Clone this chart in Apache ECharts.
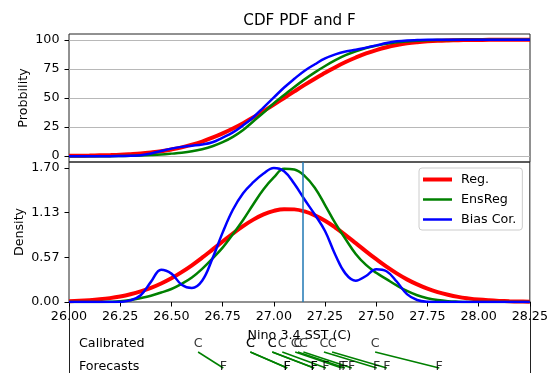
<!DOCTYPE html>
<html><head><meta charset="utf-8">
<script src="https://cdn.jsdelivr.net/npm/echarts@6/dist/echarts.min.js"></script>
<style>html,body{margin:0;padding:0;background:#fff}#c{width:551px;height:373px}</style>
</head><body><div id="c"></div>
<script>
// ---- data ----
const xGrid = [26.00,26.05,26.10,26.15,26.20,26.25,26.30,26.35,26.40,26.45,26.50,26.55,26.60,26.65,26.70,26.75,26.80,26.85,26.90,26.95,
               27.00,27.05,27.10,27.15,27.20,27.25,27.30,27.35,27.40,27.45,27.50,27.55,27.60,27.65,27.70,27.75,27.80,27.85,27.90,27.95,
               28.00,28.05,28.10,28.15,28.20,28.25];
const regPdf = [0.010,0.015,0.023,0.034,0.049,0.070,0.098,0.134,0.179,0.235,0.301,0.379,0.466,0.562,0.664,0.767,0.869,0.963,1.045,1.111,
                1.156,1.178,1.175,1.149,1.099,1.030,0.945,0.849,0.747,0.643,0.543,0.448,0.363,0.287,0.223,0.169,0.126,0.092,0.065,0.046,
                0.031,0.021,0.014,0.009,0.006,0.003];
const ensPdf = [0,0,0,0,0.002,0.008,0.025,0.05,0.08,0.12,0.165,0.23,0.31,0.42,0.55,0.69,0.86,1.04,1.24,1.43,
                1.58,1.69,1.68,1.60,1.45,1.23,1.00,0.80,0.61,0.47,0.37,0.29,0.21,0.14,0.085,0.048,0.024,0.01,0.004,0.001,
                0,0,0,0,0,0];
const biasPdf = [0,0,0,0,0,0.003,0.02,0.085,0.255,0.41,0.36,0.22,0.178,0.27,0.55,0.88,1.17,1.38,1.52,1.63,
                 1.70,1.66,1.50,1.30,1.11,0.90,0.60,0.36,0.27,0.33,0.415,0.39,0.26,0.10,0.025,0.003,0,0,0,0,
                 0,0,0,0,0,0];
const regCdf = [0.3,0.4,0.5,0.7,0.9,1.2,1.7,2.3,3.2,4.3,5.8,7.6,9.9,12.6,15.9,19.6,23.8,28.4,33.4,38.8,
                44.3,50.0,55.7,61.3,66.6,71.6,76.5,80.9,84.8,88.3,91.2,93.6,95.5,97.0,98.0,98.7,99.2,99.5,99.7,99.8,
                99.9,100,100,100,100,100];
const ensCdf = [0,0,0,0,0,0.1,0.3,0.6,1.0,1.5,2.2,3.0,4.2,6.0,8.5,12.0,16.6,22.5,30.0,37.5,
                45.5,52.5,59.5,66.0,72.0,77.5,82.5,86.8,90.2,93.0,95.0,96.6,97.8,98.6,99.2,99.6,99.8,99.9,100,100,
                100,100,100,100,100,100];
const biasCdf = [0,0,0,0,0,0.1,0.3,0.8,2.3,4.5,6.5,8.0,9.0,10.0,12.0,16.0,20.5,26.5,33.5,42.0,
                 50.5,59.0,66.5,73.5,79.0,84.0,87.5,90.0,91.5,93.3,95.2,97.2,98.7,99.5,99.8,100,100,100,100,100,
                 100,100,100,100,100,100];
const observed = 27.14;
const calibrated = [26.630,26.885,26.885,26.992,26.992,27.041,27.104,27.117,27.144,27.244,27.284,27.494];
const forecasts  = [26.753,27.065,27.065,27.196,27.196,27.254,27.331,27.347,27.380,27.502,27.551,27.807];
const xTicks = [26.00,26.25,26.50,26.75,27.00,27.25,27.50,27.75,28.00,28.25];
const probTicks = [0,25,50,75,100];
const densTicks = [0,0.5667,1.1333,1.70];
const seriesNames = ['Reg.','EnsReg','Bias Cor.'];

// ---- layout / style ----
const FONT = 'DejaVu Sans';
const FS = 12.7;
const colors = ['#ff0000','#008000','#0000ff'];
const widths = [4,2.5,2.5];
const ROW_C = 42, ROW_F = 65, LINE_A = 50, LINE_B = 66;

const pairs = (ys) => xGrid.map((x,i)=>[x, ys[i]]);
const cdfs = [regCdf, ensCdf, biasCdf];
const pdfs = [regPdf, ensPdf, biasPdf];

const chart = echarts.init(document.getElementById('c'), null, {renderer:'canvas'});
const axisTxt = {fontFamily: FONT, fontSize: FS, color: '#000'};
const series = [];
for (let k=0;k<3;k++) series.push({
  name: seriesNames[k], type:'line', xAxisIndex:0, yAxisIndex:0, data: pairs(cdfs[k]),
  symbol:'none', smooth:0.4, lineStyle:{color:colors[k], width:widths[k]}, itemStyle:{color:colors[k]},
  emphasis:{disabled:true}, silent:true
});
for (let k=0;k<3;k++) series.push({
  name: seriesNames[k], type:'line', xAxisIndex:1, yAxisIndex:1, data: pairs(pdfs[k]),
  symbol:'none', smooth:0.4, lineStyle:{color:colors[k], width:widths[k]}, itemStyle:{color:colors[k]},
  emphasis:{disabled:true}, silent:true
});
series.push({
  name:'obs', type:'line', xAxisIndex:1, yAxisIndex:1, data:[], silent:true,
  markLine:{symbol:['none','none'], silent:true, label:{show:false}, animation:false,
    lineStyle:{color:'#1f77b4', width:1.5, type:'solid'}, emphasis:{disabled:true},
    data:[{xAxis: observed}]}
});
series.push({
  type:'custom', xAxisIndex:2, yAxisIndex:2, silent:true,
  data: calibrated.map((c,i)=>[c, forecasts[i]]),
  renderItem: (params, api) => {
    const p1 = api.coord([api.value(0), LINE_A]);
    const p2 = api.coord([api.value(1), LINE_B]);
    return {type:'line', shape:{x1:p1[0], y1:p1[1], x2:p2[0], y2:p2[1]},
            style:{stroke:'#008000', lineWidth:1.5}};
  }
});
const labelSeries = (vals, row, txt) => ({
  type:'scatter', xAxisIndex:2, yAxisIndex:2, silent:true, symbolSize:1,
  itemStyle:{color:'rgba(0,0,0,0)'},
  data: vals.map(v=>[v,row]),
  label:{show:true, position:'inside', formatter:txt, fontFamily:FONT, fontSize:FS, color:'#000'}
});
series.push(labelSeries(calibrated, ROW_C, 'C'));
series.push(labelSeries(forecasts, ROW_F, 'F'));

const option = {
  animation:false,
  backgroundColor:'#fff',
  title:{text:'CDF PDF and F', left:299.5, top:14, textAlign:'center', padding:0,
         textStyle:{fontFamily:FONT, fontSize:15.2, fontWeight:'normal', color:'#000'}},
  legend:{orient:'vertical', left:419, top:168, padding:[5,6,4,4], itemGap:7, itemWidth:29, itemHeight:13,
          backgroundColor:'rgba(255,255,255,0.8)', borderColor:'#cccccc', borderWidth:1, borderRadius:3,
          textStyle:{fontFamily:FONT, fontSize:FS, color:'#000', padding:[0,0,0,4]},
          selectedMode:false,
          data:[{name:'Reg.', icon:'path://M0,0H29V4H0Z'},
                {name:'EnsReg', icon:'path://M0,0H29V2.5H0Z'},
                {name:'Bias Cor.', icon:'path://M0,0H29V2.5H0Z'}]},
  grid:[
    {left:69, top:34, width:461, height:128, show:true, borderColor:'#222', borderWidth:1, backgroundColor:'transparent'},
    {left:69, top:162, width:461, height:140, show:true, borderColor:'#222', borderWidth:1, backgroundColor:'transparent'},
    {left:69, top:302, width:461, height:71, show:false}
  ],
  xAxis:[
    {gridIndex:0, type:'value', min:26, max:28.25, axisLabel:{show:false}, axisTick:{show:false}, axisLine:{show:false}, splitLine:{show:false}},
    {gridIndex:1, type:'value', min:26, max:28.25, interval:0.25,
     axisLabel:Object.assign({margin:8.5, formatter:v=>v.toFixed(2), customValues:xTicks}, axisTxt),
     axisTick:{show:true, length:4.5, lineStyle:{color:'#000', width:1}, customValues:xTicks},
     axisLine:{show:false}, splitLine:{show:false},
     name:'Nino 3.4 SST (C)', nameLocation:'middle', nameGap:27, nameMoveOverlap:false, nameTextStyle:axisTxt},
    {gridIndex:2, type:'value', min:26, max:28.25, show:false}
  ],
  yAxis:[
    {gridIndex:0, type:'value', min:-5, max:105,
     axisLabel:Object.assign({margin:9.5, customValues:probTicks}, axisTxt),
     axisTick:{show:true, length:4.5, lineStyle:{color:'#000', width:1}, customValues:probTicks},
     axisLine:{show:false}, splitLine:{show:true, lineStyle:{color:'#b8b8b8', width:1}},
     name:'Probbility', nameLocation:'middle', nameGap:38.5, nameMoveOverlap:false, nameTextStyle:axisTxt},
    {gridIndex:1, type:'value', min:0, max:1.776,
     axisLabel:Object.assign({margin:9.5, customValues:densTicks, formatter:v=>v.toFixed(2)}, axisTxt),
     axisTick:{show:true, length:4.5, lineStyle:{color:'#000', width:1}, customValues:densTicks},
     axisLine:{show:false}, splitLine:{show:false},
     name:'Density', nameLocation:'middle', nameGap:43, nameMoveOverlap:false, nameTextStyle:axisTxt},
    {gridIndex:2, type:'value', min:0, max:71, inverse:true, position:'left',
     axisLabel:{show:false}, axisTick:{show:false}, splitLine:{show:false},
     axisLine:{show:true, lineStyle:{color:'#222', width:1}}},
    {gridIndex:2, type:'value', min:0, max:71, inverse:true, position:'right',
     axisLabel:{show:false}, axisTick:{show:false}, splitLine:{show:false},
     axisLine:{show:true, lineStyle:{color:'#222', width:1}}}
  ],
  graphic:[
    {type:'text', x:79, y:302+ROW_C, silent:true, style:{text:'Calibrated', fontFamily:FONT, fontSize:FS, fill:'#000', align:'left', verticalAlign:'middle'}},
    {type:'text', x:79, y:302+ROW_F, silent:true, style:{text:'Forecasts', fontFamily:FONT, fontSize:FS, fill:'#000', align:'left', verticalAlign:'middle'}}
  ],
  series: series
};
chart.setOption(option);
</script>
</body></html>
